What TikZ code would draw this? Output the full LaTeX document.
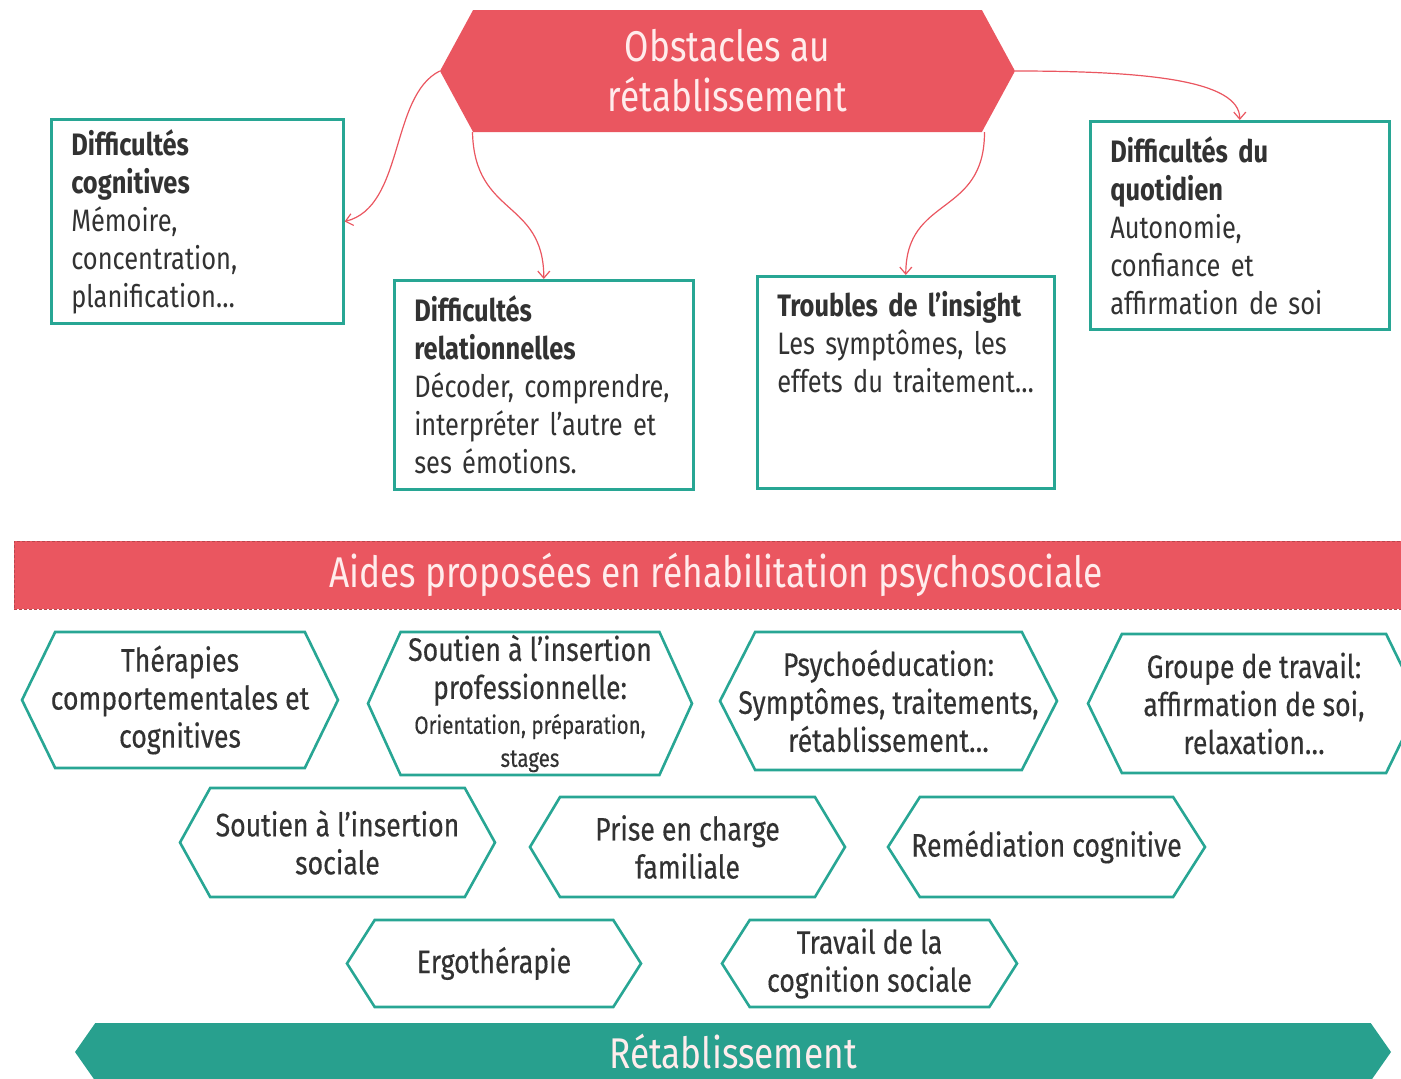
\documentclass[tikz,border=0pt]{standalone}
\usepackage{fontspec}
\setmainfont{Fira Sans}[FakeStretch=0.82]
\newfontfamily\hexfamily{Fira Sans}[FakeStretch=0.82, FakeBold=0.3]
\usetikzlibrary{arrows.meta, shapes.symbols}
\definecolor{coralred}{RGB}{234,86,96}
\definecolor{tealline}{RGB}{40,166,148}
\definecolor{tealfill}{RGB}{40,160,142}
\definecolor{inkgray}{RGB}{50,50,50}
\definecolor{palepink}{RGB}{255,236,236}
\newcommand{\boxfont}{\fontsize{31}{38}\selectfont}
\newcommand{\hexfont}{\hexfamily\fontsize{32.5}{38}\selectfont}
\newcommand{\titlefont}{\fontsize{43}{50}\selectfont}
\newcommand{\smalltxt}{\fontsize{25}{30}\selectfont}

\begin{document}
\begin{tikzpicture}[x=1pt, y=-1pt,
    obsbox/.style={rectangle, draw=tealline, line width=2.6pt, fill=white,
                   anchor=north west, align=left, inner xsep=20pt, inner ysep=10pt,
                   font=\boxfont, text=inkgray},
    aidhex/.style={signal, signal to=east and west, draw=tealline, line width=2.6pt,
                   fill=white, align=center, inner xsep=-20pt, inner ysep=0pt,
                   font=\hexfont, text=inkgray},
    banner/.style={signal, signal to=east and west, inner sep=0pt, align=center,
                   font=\titlefont, text=palepink},
    arr/.style={-{Straight Barb[length=7pt, width=12pt]}, coralred, line width=1.2pt}
  ]
    \useasboundingbox (0,0) rectangle (1401,1079);

    % obstacles
    \node[banner, fill=coralred, signal pointer angle=123,
          minimum width=575pt, minimum height=122pt] (obst) at (727.5,71)
          {Obstacles au\\rétablissement};

    \node[obsbox, text width=252pt, minimum height=199pt] (cog) at (50,118)
          {\textbf{Difficultés}\\\textbf{cognitives}\\Mémoire,\\concentration,\\planification…};
    \node[obsbox, text width=259pt, minimum height=209pt] (rel) at (393,279)
          {\textbf{Difficultés}\\\textbf{relationnelles}\\Décoder, comprendre,\\interpréter l’autre et\\ses émotions.};
    \node[obsbox, text width=257pt, inner ysep=15pt, text depth=157pt] (ins) at (756,275)
          {\textbf{Troubles de l’insight}\\Les symptômes, les\\effets du traitement…};
    \node[obsbox, text width=259pt, minimum height=208pt] (quot) at (1089,120)
          {\textbf{Difficultés du}\\\textbf{quotidien}\\Autonomie,\\confiance et\\affirmation de soi};

    \draw[arr] (obst.west) .. controls +(-50,25) and +(60,-15) .. (cog.east);
    \draw[arr] ([xshift=-255pt]obst.south) .. controls +(2,85) and +(0,-80) .. (rel.north);
    \draw[arr] ([xshift=257pt]obst.south) .. controls +(0,85) and +(0,-80) .. (ins.north);
    \draw[arr] (obst.east) .. controls +(130,0) and +(0,-40) .. (quot.north);

    % aides
    \node[rectangle, fill=coralred, draw=coralred!80!black, dash pattern=on 3pt off 2pt,
          line width=1pt, minimum width=1404pt, minimum height=68pt, inner sep=0pt,
          font=\fontsize{43}{46}\selectfont, text=palepink] (aides) at (716,575)
          {Aides proposées en réhabilitation psychosociale};

    \node[aidhex, signal pointer angle=128, minimum width=316pt, minimum height=136pt] (tcc) at (180,700)
          {Thérapies\\comportementales et\\cognitives};
    \node[aidhex, signal pointer angle=131, minimum width=324pt, minimum height=143pt] (sip) at (530,703.5)
          {Soutien à l’insertion\\professionnelle:\\[-3pt]\smalltxt Orientation, préparation,\\[-5pt]\smalltxt stages};
    \node[aidhex, signal pointer angle=126, minimum width=337pt, minimum height=138pt] (psy) at (888.5,701)
          {Psychoéducation:\\Symptômes, traitements,\\rétablissement…};
    \node[aidhex, signal pointer angle=128, minimum width=332pt, minimum height=139pt] (grp) at (1254,703.5)
          {Groupe de travail:\\affirmation de soi,\\relaxation…};

    \node[aidhex, signal pointer angle=122, minimum width=315pt, minimum height=109pt] (sis) at (337.5,842.5)
          {Soutien à l’insertion\\sociale};
    \node[aidhex, signal pointer angle=118, minimum width=315pt, minimum height=100pt] (fam) at (687.5,847)
          {Prise en charge\\familiale};
    \node[aidhex, signal pointer angle=115, minimum width=317pt, minimum height=100pt] (rem) at (1046.5,847)
          {Remédiation cognitive};

    \node[aidhex, signal pointer angle=115, minimum width=294pt, minimum height=87pt] (ergo) at (494,963.5)
          {Ergothérapie};
    \node[aidhex, signal pointer angle=115, minimum width=295pt, minimum height=87pt] (tcs) at (869.5,963.5)
          {Travail de la\\cognition sociale};

    % retablissement
    \node[banner, fill=tealfill, signal pointer angle=110,
          minimum width=1316pt, minimum height=58pt] (retab) at (733,1052)
          {Rétablissement};
\end{tikzpicture}
\end{document}
